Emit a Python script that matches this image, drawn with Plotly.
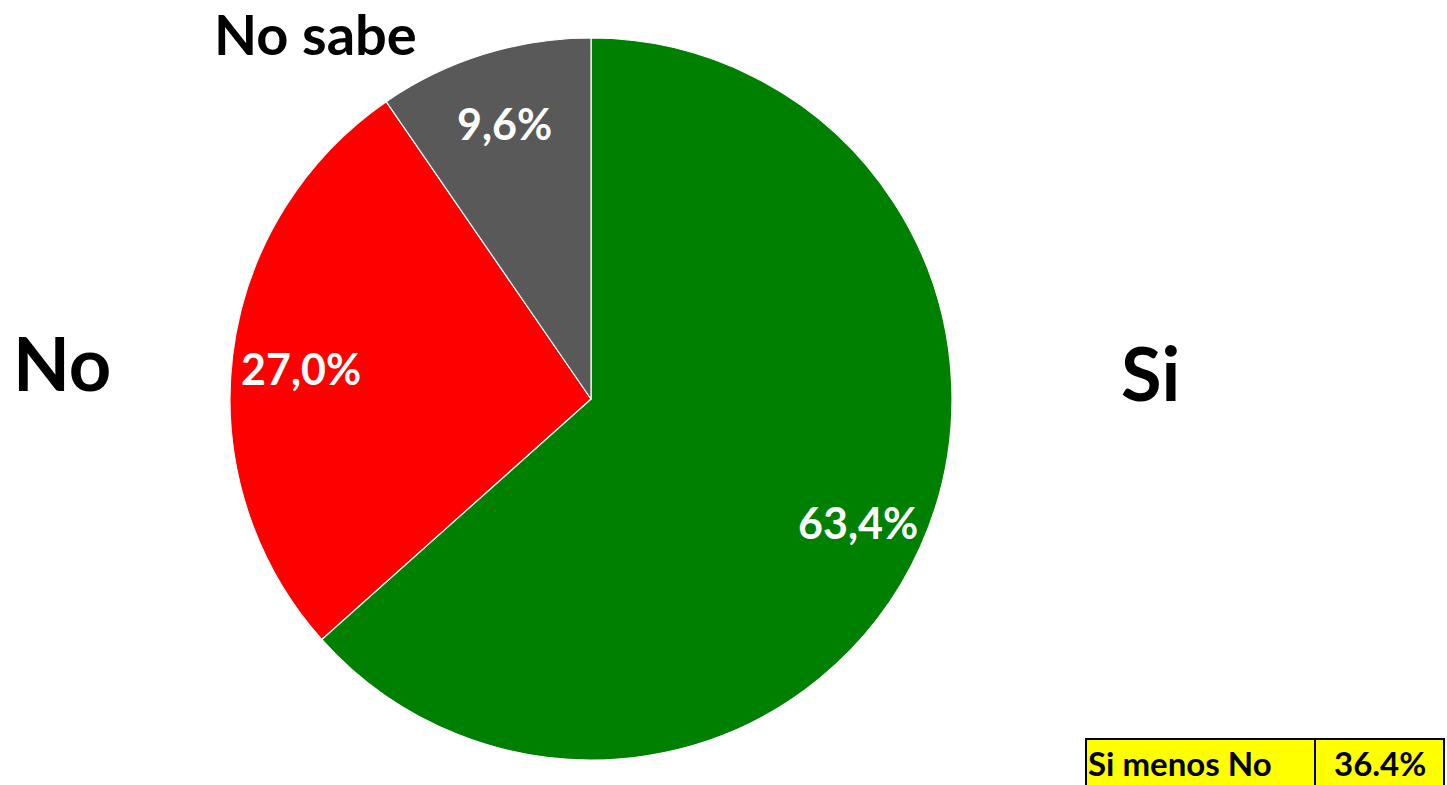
import math

import plotly.graph_objects as go

W, H = 1447, 785

labels = ["Si", "No", "No sabe"]
values = [63.4, 27.0, 9.6]
colors = ["#008000", "#ff0000", "#595959"]
diff_label = "Si menos No"
diff_value = "36.4%"

FONT = "Lato, 'Open Sans', sans-serif"

# pie geometry in page pixels
CX, CY, R = 591, 399, 361


def px_x(x):
    return x / W


def px_y(y):
    return 1 - y / H


fig = go.Figure()
fig.add_trace(
    go.Pie(
        labels=labels,
        values=values,
        sort=False,
        direction="clockwise",
        rotation=0,
        marker={"colors": colors, "line": {"color": "white", "width": 1.2}},
        textinfo="none",
        hoverinfo="label+percent",
        showlegend=False,
        domain={"x": [px_x(CX - R), px_x(CX + R)], "y": [px_y(CY + R), px_y(CY - R)]},
    )
)

# percentage labels placed at each slice's mid-angle, out towards the rim
total = sum(values)
cum = 0.0
for v in values:
    mid = (cum + v / 2) / total * 2 * math.pi
    cum += v
    rr = R * 0.81
    x = CX + rr * math.sin(mid)
    y = CY - rr * math.cos(mid) + 4
    fig.add_annotation(
        text=f"{v / total * 100:.1f}%".replace(".", ","),
        x=px_x(x), y=px_y(y), xref="paper", yref="paper",
        showarrow=False, xanchor="center", yanchor="middle",
        font={"family": FONT, "size": 43, "color": "white", "weight": "bold"},
    )

outer = [
    {"text": "Si", "x": 1150, "y": 372, "size": 74},
    {"text": "No", "x": 62, "y": 362, "size": 74},
    {"text": "No sabe", "x": 315, "y": 34, "size": 56},
]
for a in outer:
    fig.add_annotation(
        text=a["text"], x=px_x(a["x"]), y=px_y(a["y"]), xref="paper", yref="paper",
        showarrow=False, xanchor="center", yanchor="middle",
        font={"family": FONT, "size": a["size"], "color": "black", "weight": "bold"},
    )

# small summary table, bottom right
fig.add_shape(type="rect", xref="paper", yref="paper",
              x0=px_x(1086), x1=px_x(1315), y0=px_y(800), y1=px_y(739),
              fillcolor="#ffff00", line={"color": "black", "width": 2})
fig.add_shape(type="rect", xref="paper", yref="paper",
              x0=px_x(1315), x1=px_x(1444), y0=px_y(800), y1=px_y(739),
              fillcolor="#ffff00", line={"color": "black", "width": 2})
fig.add_annotation(text=diff_label, x=px_x(1086), y=0, xref="paper", yref="paper",
                   showarrow=False, xanchor="left", yanchor="bottom",
                   font={"family": FONT, "size": 33, "color": "black", "weight": "bold"})
fig.add_annotation(text=diff_value, x=px_x(1380), y=0, xref="paper", yref="paper",
                   showarrow=False, xanchor="center", yanchor="bottom",
                   font={"family": FONT, "size": 33, "color": "black", "weight": "bold"})

fig.update_layout(
    width=W,
    height=H,
    margin={"l": 0, "r": 0, "t": 0, "b": 0},
    paper_bgcolor="white",
    plot_bgcolor="white",
    font={"family": FONT},
)

fig.write_html(
    "out.html",
    config={"displayModeBar": False},
    post_script="document.body.style.margin='0';",
)
